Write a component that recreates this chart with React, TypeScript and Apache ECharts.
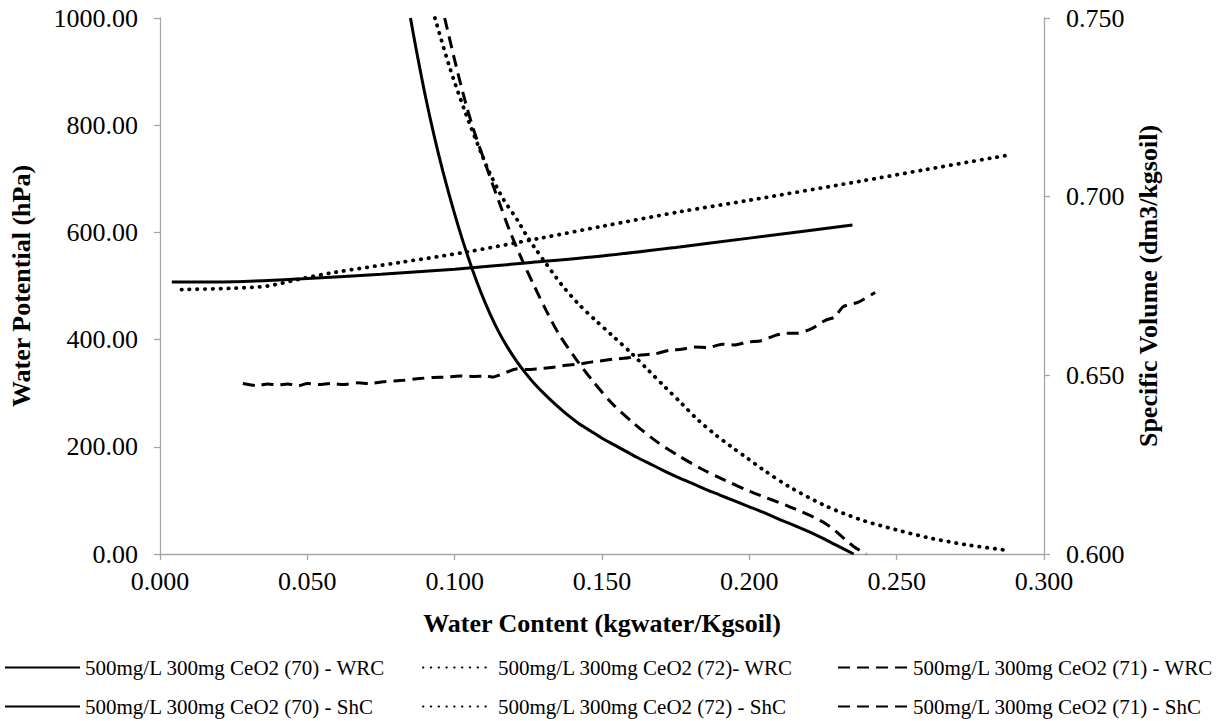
import React, { useEffect, useRef } from "react";
import * as echarts from "echarts";

// X tick labels: 0.000 .. 0.300 ; left 0.00..1000.00 ; right 0.600..0.750
const names = [
  "500mg/L 300mg CeO2 (70) - WRC",
  "500mg/L 300mg CeO2 (72)- WRC",
  "500mg/L 300mg CeO2 (71) - WRC",
  "500mg/L 300mg CeO2 (70) - ShC",
  "500mg/L 300mg CeO2 (72) - ShC",
  "500mg/L 300mg CeO2 (71) - ShC",
];

// Water retention curves (water content, water potential hPa)
const wrc70X = [0.085, 0.087, 0.09, 0.093, 0.096, 0.1, 0.103, 0.106, 0.109, 0.112, 0.115, 0.118, 0.121, 0.124, 0.127, 0.13, 0.134, 0.138, 0.142, 0.146, 0.15, 0.154, 0.158, 0.162, 0.166, 0.17, 0.175, 0.18, 0.185, 0.19, 0.195, 0.2, 0.205, 0.21, 0.215, 0.22, 0.225, 0.23, 0.2354];
const wrc70Y = [1000, 940, 856, 781, 714, 634, 580, 531, 487, 448, 414, 385, 360, 338, 318, 301, 280, 261, 244, 230, 216, 204, 192, 180, 169, 158, 145, 133, 121, 110, 99, 88, 77, 65, 54, 42, 29, 15, 0];

const wrc72X = [0.0933, 0.0983, 0.1034, 0.109, 0.1118, 0.1163, 0.1214, 0.1242, 0.1276, 0.131, 0.1343, 0.1371, 0.1421, 0.1478, 0.1534, 0.1601, 0.1657, 0.1713, 0.177, 0.1826, 0.1882, 0.1939, 0.1995, 0.2045, 0.2137, 0.2258, 0.2378, 0.2499, 0.2619, 0.274, 0.2873];
const wrc72Y = [1000, 908, 827, 748, 712, 664, 622, 596, 568, 542, 517, 497, 466, 436, 408, 374, 343, 312, 281, 250, 224, 200, 178, 158, 125, 90, 64, 45, 29, 17, 7];

const wrc71X = [0.0966, 0.1006, 0.1039, 0.107, 0.11, 0.113, 0.1152, 0.1186, 0.1231, 0.127, 0.131, 0.1354, 0.141, 0.1467, 0.1534, 0.1601, 0.168, 0.1758, 0.1837, 0.1916, 0.2006, 0.2137, 0.2258, 0.2354, 0.2397];
const wrc71Y = [1000, 908, 838, 782, 735, 688, 655, 604, 546, 500, 455, 410, 365, 324, 281, 247, 212, 184, 159, 138, 116, 88, 57, 14, 0];

// Shrinkage curves (water content, specific volume dm3/kgsoil)
const shc70X = [0.004, 0.025, 0.05, 0.075, 0.1, 0.125, 0.15, 0.175, 0.2, 0.235];
const shc70Y = [0.6761, 0.6762, 0.6771, 0.6783, 0.6797, 0.6815, 0.6834, 0.6858, 0.6884, 0.6921];

const shc72X = [0.0073, 0.0253, 0.0365, 0.0478, 0.059, 0.0815, 0.1039, 0.1292, 0.15, 0.1773, 0.2, 0.2375, 0.26, 0.287];
const shc72Y = [0.674, 0.6744, 0.675, 0.677, 0.6788, 0.6816, 0.6845, 0.6884, 0.6917, 0.6959, 0.699, 0.7043, 0.7076, 0.7115];

const shc71X = [0.0281, 0.033, 0.0365, 0.04, 0.0433, 0.047, 0.05, 0.054, 0.0579, 0.062, 0.0669, 0.071, 0.0758, 0.0826, 0.088, 0.0927, 0.097, 0.1017, 0.106, 0.1107, 0.113, 0.1152, 0.118, 0.1208, 0.125, 0.1287, 0.133, 0.1376, 0.142, 0.1463, 0.1547, 0.159, 0.1631, 0.168, 0.1728, 0.177, 0.1812, 0.186, 0.1908, 0.195, 0.1993, 0.204, 0.2089, 0.2125, 0.2162, 0.221, 0.2258, 0.229, 0.2318, 0.237, 0.2427];
const shc71Y = [0.6477, 0.6471, 0.6476, 0.6473, 0.6476, 0.6471, 0.6477, 0.6474, 0.6477, 0.6474, 0.6479, 0.6477, 0.6482, 0.6486, 0.6491, 0.6494, 0.6495, 0.6498, 0.6497, 0.6498, 0.6495, 0.6501, 0.651, 0.6518, 0.6516, 0.6519, 0.6522, 0.6528, 0.6531, 0.6537, 0.6546, 0.6549, 0.6557, 0.656, 0.657, 0.6573, 0.6579, 0.6578, 0.6587, 0.6585, 0.6593, 0.6597, 0.6612, 0.6618, 0.6618, 0.663, 0.6654, 0.6663, 0.6692, 0.6705, 0.6732];

const zip = (xs: number[], ys: number[]) => xs.map((x, i) => [x, ys[i]]);

const FONT = "'Liberation Serif', 'Times New Roman', Times, serif";

export default function App() {
  const ref = useRef<HTMLDivElement>(null);
  useEffect(() => {
    document.body.style.margin = "0";
    const chart = echarts.init(ref.current!, null, { renderer: "svg" });
    const solid = { color: "#000", width: 3, type: "solid" as any };
    const dotted = { color: "#000", width: 3.8, type: [0.4, 7.4] as any, cap: "round" as any };
    const dashed = { color: "#000", width: 3, type: [12, 7] as any };
    const mk = (name: string, data: number[][], ls: any, yIdx: number, smooth: any) => ({
      name,
      type: "line",
      data,
      yAxisIndex: yIdx,
      symbol: "none",
      showSymbol: false,
      smooth,
      lineStyle: ls,
      itemStyle: { color: "#000" },
      clip: true,
    });
    const legendAt = (name: string, left: number, top: number, w: number) => ({
      data: [name],
      left,
      top,
      padding: 0,
      itemWidth: w,
      itemHeight: 14,
      selectedMode: false,
      itemStyle: { opacity: 0, borderWidth: 0 },
      textStyle: { fontFamily: FONT, fontSize: 21, color: "#000" },
    });
    const axisCommon = {
      axisLine: { show: true, lineStyle: { color: "#a6a6a6", width: 1.3 } },
      axisTick: { show: true, inside: false, length: 6, lineStyle: { color: "#a6a6a6", width: 1.3 } },
      splitLine: { show: false },
    };
    const nameStyle = { fontFamily: FONT, fontSize: 26, fontWeight: "bold", color: "#000" };
    const labelStyle = { fontFamily: FONT, fontSize: 26, color: "#000" };
    chart.setOption({
      animation: false,
      backgroundColor: "#fff",
      textStyle: { fontFamily: FONT },
      grid: { left: 152, right: 184, top: 18, bottom: 167, containLabel: false },
      legend: [
        legendAt(names[0], 4, 657, 75),
        legendAt(names[1], 422, 657, 70),
        legendAt(names[2], 837, 657, 70),
        legendAt(names[3], 4, 696, 75),
        legendAt(names[4], 422, 696, 70),
        legendAt(names[5], 837, 696, 70),
      ],
      xAxis: {
        type: "value",
        min: 0,
        max: 0.3,
        interval: 0.05,
        ...axisCommon,
        axisLabel: { formatter: (v: number) => v.toFixed(3), ...labelStyle, margin: 14 },
        name: "Water Content (kgwater/Kgsoil)",
        nameLocation: "middle",
        nameGap: 56,
        nameTextStyle: nameStyle,
      },
      yAxis: [
        {
          type: "value",
          min: 0,
          max: 1000,
          interval: 200,
          ...axisCommon,
          axisLabel: { formatter: (v: number) => v.toFixed(2), ...labelStyle, margin: 22 },
          name: "Water Potential (hPa)",
          nameLocation: "middle",
          nameRotate: 90,
          nameGap: 126,
          nameTextStyle: nameStyle,
        },
        {
          type: "value",
          min: 0.6,
          max: 0.75,
          interval: 0.05,
          position: "right",
          ...axisCommon,
          axisLabel: { formatter: (v: number) => v.toFixed(3), ...labelStyle, margin: 22 },
          name: "Specific Volume (dm3/kgsoil)",
          nameLocation: "middle",
          nameRotate: 90,
          nameGap: 91,
          nameTextStyle: nameStyle,
        },
      ],
      series: [
        mk(names[0], zip(wrc70X, wrc70Y), solid, 0, 0.3),
        mk(names[1], zip(wrc72X, wrc72Y), dotted, 0, 0.3),
        mk(names[2], zip(wrc71X, wrc71Y), dashed, 0, 0.3),
        mk(names[3], zip(shc70X, shc70Y), solid, 1, 0.3),
        mk(names[4], zip(shc72X, shc72Y), dotted, 1, 0.3),
        mk(names[5], zip(shc71X, shc71Y), dashed, 1, 0.2),
      ],
    });
    return () => chart.dispose();
  }, []);
  return <div ref={ref} style={{ width: 1228, height: 721 }} />;
}
